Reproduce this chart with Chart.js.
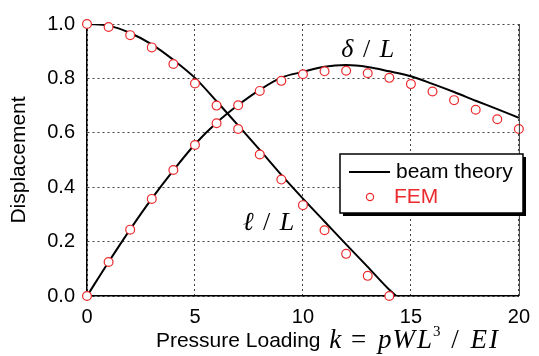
<!DOCTYPE html>
<html>
<head>
<meta charset="utf-8">
<script src="https://cdn.jsdelivr.net/npm/chart.js@4"></script>
<style>
  html, body { margin: 0; padding: 0; background: #fff; }
  #wrap { width: 539px; height: 356px; }
</style>
</head>
<body>
<div id="wrap"><canvas id="c"></canvas></div>
<script>
// beam theory curves
const beamK = [0, 1, 2, 3, 4, 5, 6, 7, 8, 9, 10, 11, 12, 13, 14, 15, 16, 17, 18, 19, 20];
const beamDelta = [0, 0.125, 0.245, 0.358, 0.462, 0.558, 0.637, 0.702, 0.758, 0.803, 0.824, 0.843, 0.849, 0.842, 0.826, 0.808, 0.780, 0.750, 0.718, 0.687, 0.655];
const beamEllK = [0, 1, 2, 3, 4, 5, 6, 7, 8, 9, 10, 11, 12, 13, 14, 14.33];
const beamEll = [1.0, 0.994, 0.967, 0.925, 0.868, 0.802, 0.716, 0.627, 0.537, 0.445, 0.358, 0.274, 0.190, 0.107, 0.023, 0];

// FEM results
const femK = [0, 1, 2, 3, 4, 5, 6, 7, 8, 9, 10, 11, 12, 13, 14, 15, 16, 17, 18, 19, 20];
const femDelta = [0, 0.125, 0.244, 0.357, 0.463, 0.555, 0.635, 0.701, 0.754, 0.791, 0.815, 0.826, 0.828, 0.819, 0.802, 0.779, 0.752, 0.720, 0.685, 0.650, 0.614];
const femEllK = [0, 1, 2, 3, 4, 5, 6, 7, 8, 9, 10, 11, 12, 13, 14];
const femEll = [1.0, 0.989, 0.959, 0.914, 0.853, 0.781, 0.700, 0.614, 0.520, 0.428, 0.334, 0.242, 0.155, 0.074, 0.0];

const RED = '#ec2a2d';
const SANS = 'Arial, "Liberation Sans", sans-serif';
const SERIF = '"Liberation Serif", "Times New Roman", serif';

const pts = (xs, ys) => xs.map((x, i) => ({ x, y: ys[i] }));

// draws a run of text pieces with mixed fonts, centred on cx; p.gap adds extra room after a piece
function drawRich(ctx, parts, cx, cy) {
    let total = 0;
    parts.forEach(p => { ctx.font = p.f; p.w = ctx.measureText(p.t).width + (p.gap || 0); total += p.w; });
    let x = cx - total / 2;
    ctx.textBaseline = 'middle';
    ctx.textAlign = 'left';
    parts.forEach(p => {
        ctx.font = p.f;
        ctx.fillStyle = p.c || '#000';
        ctx.fillText(p.t, x, cy + (p.dy || 0));
        x += p.w;
    });
}

const decorations = {
    id: 'decorations',
    afterDraw(chart) {
        const { ctx, chartArea: a, scales } = chart;
        ctx.save();
        // right edge of frame
        ctx.strokeStyle = '#333';
        ctx.lineWidth = 1;
        ctx.beginPath();
        ctx.moveTo(a.right + 0.5, a.top);
        ctx.lineTo(a.right + 0.5, a.bottom);
        ctx.stroke();

        // curve labels
        const it = `italic 26px ${SERIF}`;
        const up = `26px ${SERIF}`;
        drawRich(ctx, [{ t: 'δ', f: it, gap: 3 }, { t: ' / ', f: up, gap: 3 }, { t: 'L', f: it }],
            scales.x.getPixelForValue(13.0), scales.y.getPixelForValue(0.905));
        drawRich(ctx, [{ t: 'ℓ', f: it, gap: 3 }, { t: ' / ', f: up, gap: 3 }, { t: 'L', f: it }],
            scales.x.getPixelForValue(8.4), scales.y.getPixelForValue(0.267));

        // x title: sans words then math
        const mi = `italic 27px ${SERIF}`;
        const mu = `27px ${SERIF}`;
        drawRich(ctx, [
            { t: 'Pressure Loading ', f: `21px ${SANS}`, gap: 3 },
            { t: 'k', f: mi, gap: 3 }, { t: ' = ', f: mu, gap: 5 },
            { t: 'p', f: mi, gap: 1 }, { t: 'W', f: mi, gap: 2 }, { t: 'L', f: mi, gap: 1 },
            { t: '3', f: `15px ${SERIF}`, dy: -9, gap: 4 }, { t: ' / ', f: mu, gap: 5 },
            { t: 'E', f: mi, gap: 2 }, { t: 'I', f: mi },
        ], 327, 341);

        ctx.translate(19, (a.top + a.bottom) / 2);
        ctx.rotate(-Math.PI / 2);
        ctx.font = `21px ${SANS}`;
        ctx.fillStyle = '#000';
        ctx.textAlign = 'center';
        ctx.textBaseline = 'middle';
        ctx.fillText('Displacement', 0, 0);
        ctx.restore();

        // legend box with drop shadow
        ctx.save();
        const bx = 340, by = 154, bw = 183, bh = 59;
        ctx.fillStyle = '#000';
        ctx.fillRect(bx + 3, by + 3, bw, bh);
        ctx.fillStyle = '#fff';
        ctx.fillRect(bx, by, bw, bh);
        ctx.strokeStyle = '#000';
        ctx.lineWidth = 1.5;
        ctx.strokeRect(bx, by, bw, bh);
        ctx.lineWidth = 2;
        ctx.beginPath();
        ctx.moveTo(349, 172);
        ctx.lineTo(390, 172);
        ctx.stroke();
        ctx.strokeStyle = RED;
        ctx.lineWidth = 1.2;
        ctx.beginPath();
        ctx.arc(370, 197, 3.6, 0, Math.PI * 2);
        ctx.stroke();
        ctx.font = `21px ${SANS}`;
        ctx.textAlign = 'left';
        ctx.textBaseline = 'middle';
        ctx.fillStyle = '#000';
        ctx.fillText(chart.data.datasets[0].label, 396, 172);
        ctx.fillStyle = RED;
        ctx.fillText(chart.data.datasets[2].label, 394, 197);
        ctx.restore();
    }
};

const lineStyle = {
    showLine: true, borderColor: '#000', borderWidth: 2, pointRadius: 0,
    cubicInterpolationMode: 'monotone', fill: false, order: 2,
};
const femStyle = {
    showLine: false, borderColor: RED, backgroundColor: '#fff', borderWidth: 1.2,
    pointRadius: 4.4, pointHoverRadius: 4.4, clip: false, order: 1,
};

new Chart(document.getElementById('c'), {
    type: 'scatter',
    data: {
        datasets: [
            { label: 'beam theory', data: pts(beamK, beamDelta), ...lineStyle },
            { label: 'beam theory ell', data: pts(beamEllK, beamEll), ...lineStyle },
            { label: 'FEM', data: pts(femK, femDelta), ...femStyle },
            { label: 'FEM ell', data: pts(femEllK, femEll), ...femStyle },
        ],
    },
    options: {
        responsive: true, maintainAspectRatio: false, animation: false,
        layout: { padding: { top: 22, right: 11, left: 0, bottom: 0 } },
        plugins: { legend: { display: false }, tooltip: { enabled: false } },
        scales: {
            x: {
                type: 'linear', min: 0, max: 20,
                afterFit: s => { s.height = 60; },
                ticks: { stepSize: 5, color: '#000', font: { size: 20, family: SANS }, padding: 9 },
                grid: { color: '#444', lineWidth: 1, drawTicks: false },
                border: { display: true, color: '#000', width: 1.5, dash: [2, 3] },
            },
            y: {
                min: 0, max: 1,
                afterFit: s => { s.width = 87; },
                ticks: { stepSize: 0.2, color: '#000', font: { size: 20, family: SANS }, padding: 12,
                    callback: v => v.toFixed(1) },
                grid: { color: '#444', lineWidth: 1, drawTicks: false },
                border: { display: true, color: '#000', width: 1.5, dash: [2, 3] },
            },
        },
    },
    plugins: [decorations],
});
</script>
</body>
</html>
